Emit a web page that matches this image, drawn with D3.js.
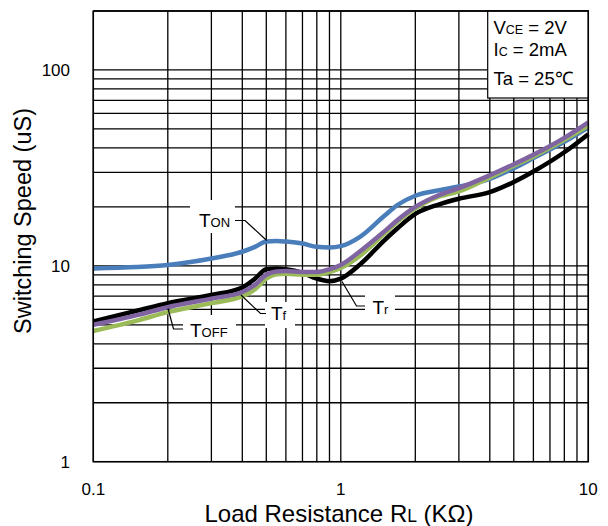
<!DOCTYPE html>
<html>
<head>
<meta charset="utf-8">
<script src="https://cdn.jsdelivr.net/npm/d3@7"></script>
<style>
  body { margin: 0; background: #fff; }
  text { font-family: "Liberation Sans", Arial, sans-serif; fill: #000; }
</style>
</head>
<body>
<div id="chart"></div>
<script>
// Load resistance (KΩ) sample points
const loadRes = [0.1, 0.15, 0.2, 0.3, 0.4, 0.45, 0.5, 0.55, 0.6, 0.7, 0.8, 0.9, 1.0, 1.2, 1.5, 1.7, 2.0, 2.5, 3.0, 4.0, 5.0, 6.0, 8.0, 10];
// Switching times (uS)
const tOn  = [9.7, 9.85, 10.1, 10.9, 11.8, 12.5, 13.3, 13.4, 13.3, 13.0, 12.5, 12.4, 12.6, 14.1, 18.0, 20.5, 22.8, 24.3, 25.4, 27.8, 31.5, 35.5, 43, 51];
const tR   = [5.2, 5.9, 6.45, 7.1, 7.75, 8.6, 9.6, 9.7, 9.6, 9.2, 8.6, 8.35, 8.6, 10.2, 13.5, 15.6, 18.4, 20.6, 22.0, 23.8, 26.8, 30.3, 38, 47];
const tOff = [5.0, 5.6, 6.15, 6.8, 7.35, 8.0, 9.0, 9.35, 9.4, 9.3, 9.3, 9.6, 10.1, 11.9, 15.0, 17.2, 20.0, 23.0, 24.9, 29.0, 33.0, 36.9, 45, 54];
const tF   = [4.65, 5.25, 5.8, 6.45, 7.0, 7.6, 8.6, 9.05, 9.1, 9.0, 9.0, 9.3, 9.75, 11.3, 14.6, 16.9, 19.6, 22.6, 24.0, 28.3, 32.4, 36.2, 44, 52];

const xTickLabels = [0.1, 1, 10];
const yTickLabels = [1, 10, 100];

const width = 608, height = 526;
const plot = { left: 93.3, right: 588.3, top: 11, bottom: 461.7 };

const svg = d3.select("#chart").append("svg")
    .attr("width", width)
    .attr("height", height);

svg.append("rect").attr("width", width).attr("height", height).attr("fill", "#fff");

const x = d3.scaleLog().domain([0.1, 10]).range([plot.left, plot.right]);
const y = d3.scaleLog().domain([1, 200]).range([plot.bottom, plot.top]);

// grid
const grid = svg.append("g").attr("stroke", "#000").attr("stroke-width", 1.3);
grid.selectAll(".vx").data(x.ticks()).join("line")
    .attr("x1", d => x(d)).attr("x2", d => x(d))
    .attr("y1", plot.top).attr("y2", plot.bottom);
grid.selectAll(".hy").data(y.ticks()).join("line")
    .attr("x1", plot.left).attr("x2", plot.right)
    .attr("y1", d => y(d)).attr("y2", d => y(d));

// tick labels
svg.append("g").selectAll("text").data(xTickLabels).join("text")
    .attr("x", d => x(d)).attr("y", 495)
    .attr("text-anchor", "middle").style("font-size", "17px")
    .text(d => d);
svg.append("g").selectAll("text").data(yTickLabels).join("text")
    .attr("x", 70).attr("y", d => y(d) + 6)
    .attr("text-anchor", "end").style("font-size", "17px")
    .text(d => d);

// axis titles
const xt = svg.append("text")
    .attr("x", 339).attr("y", 522)
    .attr("text-anchor", "middle").style("font-size", "24px");
xt.append("tspan").text("Load Resistance R");
xt.append("tspan").style("font-size", "17.5px").text("L");
xt.append("tspan").text(" (KΩ)");

svg.append("text")
    .attr("transform", "translate(31,221) rotate(-90)")
    .attr("text-anchor", "middle").style("font-size", "23.5px")
    .text("Switching Speed (uS)");

// curves
const series = [
    { name: "TON", values: tOn, color: "#4a7ebb" },
    { name: "Tr", values: tR, color: "#000000" },
    { name: "Tf", values: tF, color: "#9bbb59" },
    { name: "TOFF", values: tOff, color: "#8064a2" }
];
const line = d3.line()
    .x((d, i) => x(loadRes[i]))
    .y(d => y(d))
    .curve(d3.curveMonotoneX);

svg.append("g").selectAll("path").data(series).join("path")
    .attr("d", d => line(d.values))
    .attr("fill", "none")
    .attr("stroke", d => d.color)
    .attr("stroke-width", 4.5)
    .attr("stroke-linejoin", "round");

// curve labels with leader lines
const labels = [
    { big: "T", small: "ON", tx: 199, ty: 227, box: [190, 200, 45, 33], lead: [[235, 220.5], [245, 220.5], [266.7, 240.5]] },
    { big: "T", small: "OFF", tx: 190, ty: 337, box: [183, 315, 53, 28], lead: [[168, 308.5], [173.5, 329], [183, 329]] },
    { big: "T", small: "f", tx: 271, ty: 320, box: [265, 302, 30, 26], lead: [[241, 295], [260.5, 313.5], [266, 313.5]] },
    { big: "T", small: "r", tx: 372.5, ty: 313.5, box: [365, 294, 30, 25], lead: [[342, 281.5], [356.5, 306], [365, 306]] }
];

const lab = svg.append("g");
labels.forEach(l => {
    lab.append("rect")
        .attr("x", l.box[0]).attr("y", l.box[1])
        .attr("width", l.box[2]).attr("height", l.box[3])
        .attr("fill", "#fff");
    lab.append("path")
        .attr("d", d3.line()(l.lead))
        .attr("fill", "none").attr("stroke", "#000").attr("stroke-width", 1.2);
    const t = lab.append("text").attr("x", l.tx).attr("y", l.ty).style("font-size", "19px");
    t.append("tspan").text(l.big);
    t.append("tspan").style("font-size", "13px").text(l.small);
});

// condition box
const box = svg.append("g");
box.append("rect")
    .attr("x", 487.7).attr("y", plot.top)
    .attr("width", plot.right - 487.7).attr("height", 98 - plot.top)
    .attr("fill", "#fff").attr("stroke", "#000").attr("stroke-width", 1.2);
const cond = [
    { a: "V", b: "CE", c: " = 2V", y: 33.5 },
    { a: "I", b: "C", c: " = 2mA", y: 56 },
    { a: "Ta = 25℃", b: "", c: "", y: 85 }
];
cond.forEach(c => {
    const t = box.append("text").attr("x", 493.5).attr("y", c.y).style("font-size", "18.5px");
    t.append("tspan").text(c.a);
    if (c.b) t.append("tspan").style("font-size", "12.5px").text(c.b);
    if (c.c) t.append("tspan").text(c.c);
});

// plot border
svg.append("rect")
    .attr("x", plot.left).attr("y", plot.top)
    .attr("width", plot.right - plot.left).attr("height", plot.bottom - plot.top)
    .attr("fill", "none").attr("stroke", "#000").attr("stroke-width", 1.5);
</script>
</body>
</html>
